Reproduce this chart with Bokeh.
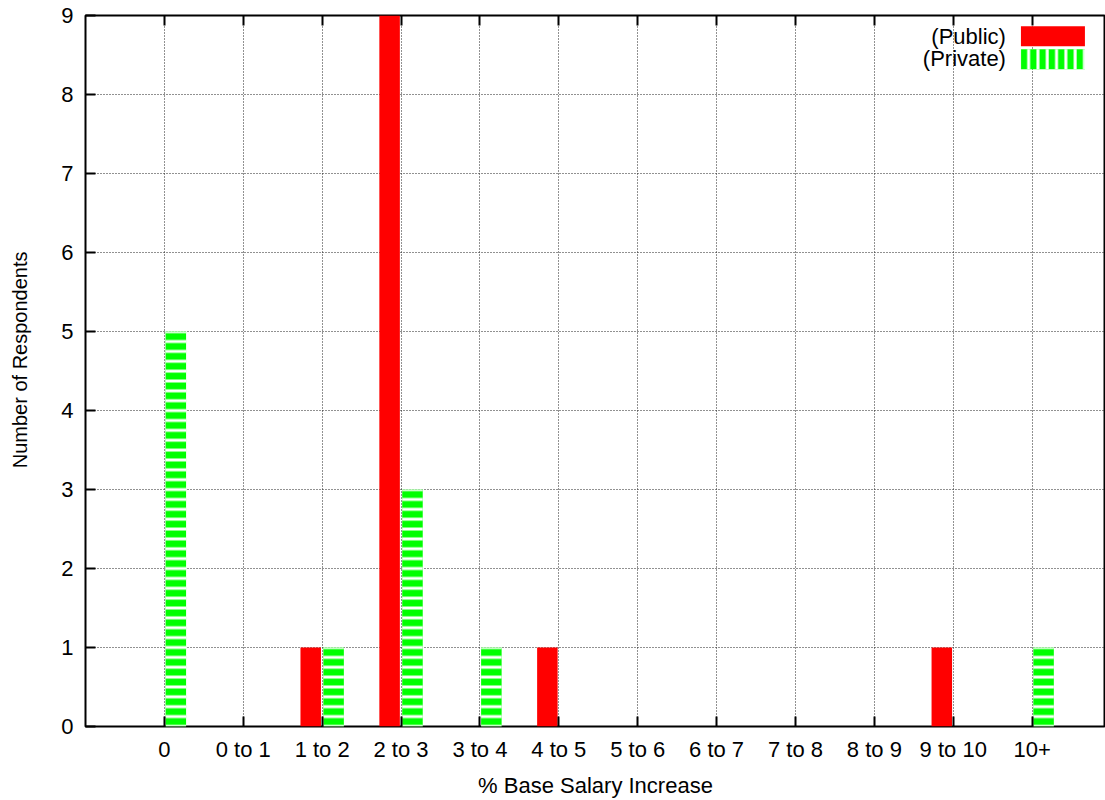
from bokeh.plotting import figure
from bokeh.models import (Range1d, FixedTicker, LinearAxis, BoxAnnotation, Label,
                          ColumnDataSource)
from bokeh.embed import file_html
from bokeh.resources import INLINE

# Survey answers: % base salary increase, public vs private sector
categories = ["0", "0 to 1", "1 to 2", "2 to 3", "3 to 4", "4 to 5",
              "5 to 6", "6 to 7", "7 to 8", "8 to 9", "9 to 10", "10+"]
public = [0, 0, 1, 9, 0, 1, 0, 0, 0, 0, 1, 0]
private = [5, 0, 1, 3, 1, 0, 0, 0, 0, 0, 0, 1]
y_ticks = [0, 1, 2, 3, 4, 5, 6, 7, 8, 9]

FONT = "Liberation Sans"
FS = "22px"
RED = "#ff0000"
GREEN = "#00ff00"

idx = list(range(len(categories)))
bar_w = 0.26
offset = 0.145

src = ColumnDataSource(dict(
    x_pub=[i - offset for i in idx],
    x_priv=[i + offset for i in idx],
    public=public,
    private=private,
))

p = figure(width=1105, height=800, output_backend="svg", toolbar_location=None,
           x_range=Range1d(-1.0, 11.93), y_range=Range1d(0, 9),
           min_border_left=85, min_border_right=0, min_border_top=15,
           min_border_bottom=73)

p.background_fill_color = "white"
p.border_fill_color = "white"
p.outline_line_color = "black"
p.outline_line_width = 2

xt = FixedTicker(ticks=idx)
yt = FixedTicker(ticks=y_ticks)

# axes
p.xaxis.ticker = xt
p.xaxis.major_label_overrides = {i: c for i, c in zip(idx, categories)}
p.yaxis.ticker = yt
for ax in (p.xaxis, p.yaxis):
    ax.major_tick_in = 10
    ax.major_tick_out = 0
    ax.minor_tick_line_color = None
    ax.major_tick_line_width = 2
    ax.axis_line_color = None
    ax.major_label_text_font = FONT
    ax.major_label_text_font_size = FS
    ax.major_label_text_color = "black"
    ax.axis_label_text_font = FONT
    ax.axis_label_text_font_size = FS
    ax.axis_label_text_font_style = "normal"
    ax.axis_label_text_color = "black"

p.xaxis.axis_label = "% Base Salary Increase"
# leading no-break spaces lift the vertical title a little above centre
p.yaxis.axis_label = "\u00a0\u00a0\u00a0\u00a0Number of Respondents"
p.yaxis.axis_label_text_font_size = "20px"
p.xaxis.major_label_standoff = 10
p.xaxis.axis_label_standoff = 8
p.yaxis.major_label_standoff = 12
p.yaxis.axis_label_standoff = 27

# mirrored ticks along the top border
top = LinearAxis(ticker=xt, major_tick_in=10, major_tick_out=0,
                 major_tick_line_width=2, minor_tick_line_color=None,
                 axis_line_color=None, major_label_text_font_size="0px",
                 major_label_standoff=0)
p.add_layout(top, "above")

# dotted grid
for g, t in ((p.xgrid, xt), (p.ygrid, yt)):
    g.ticker = t
    g.grid_line_color = "#222222"
    g.grid_line_dash = "1 2"
    g.grid_line_width = 1

# bars
p.vbar(x="x_pub", top="public", width=bar_w, bottom=0, source=src,
       fill_color=RED, line_color=None)
p.vbar(x="x_priv", top="private", width=bar_w, bottom=0, source=src,
       fill_color=GREEN, line_color=None,
       hatch_pattern="horizontal_line", hatch_color="white",
       hatch_weight=3, hatch_scale=9.87)

# key in the top-right corner
def px_x(v):
    return (v - 164.3) / 78.9

def px_y(v):
    return (728 - v) / 79.2

p.add_layout(BoxAnnotation(left=px_x(1021), right=px_x(1085),
                           top=px_y(26), bottom=px_y(46),
                           fill_color=RED, fill_alpha=1, line_color=None))
p.add_layout(BoxAnnotation(left=px_x(1021), right=px_x(1085),
                           top=px_y(49), bottom=px_y(69),
                           fill_color=GREEN, fill_alpha=1, line_color=None,
                           hatch_pattern="vertical_line", hatch_color="white",
                           hatch_weight=3, hatch_scale=9.3))
for txt, yy in (("(Public)", 36), ("(Private)", 58)):
    p.add_layout(Label(x=px_x(1006), y=px_y(yy), text=txt,
                       text_align="right", text_baseline="middle",
                       text_font=FONT, text_font_size=FS, text_color="black"))

open("out.html", "w").write(file_html(p, INLINE))
